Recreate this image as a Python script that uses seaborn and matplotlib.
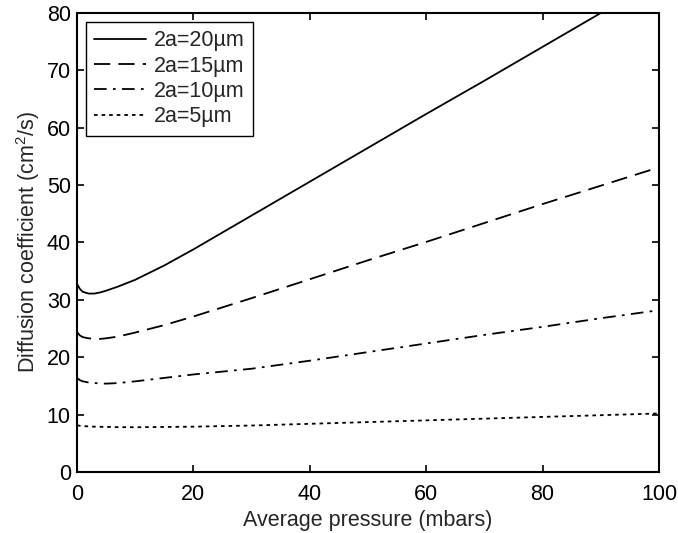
import matplotlib
matplotlib.use("Agg")
import matplotlib.pyplot as plt
import seaborn as sns
import pandas as pd

# ---- data ----
pressure = [0, 0.5, 1, 2, 3, 4, 5, 7, 10, 15, 20, 30, 40, 50, 60, 70, 80, 90, 100]
d20 = [32.8, 31.9, 31.4, 31.1, 31.1, 31.3, 31.6, 32.3, 33.5, 36.0, 38.8, 44.7, 50.6, 56.5, 62.4, 68.2, 74.1, 80.0, 85.9]
d15 = [24.4, 23.8, 23.5, 23.3, 23.2, 23.2, 23.3, 23.6, 24.3, 25.6, 27.1, 30.3, 33.6, 36.9, 40.1, 43.4, 46.7, 49.9, 53.1]
d10 = [16.4, 16.0, 15.8, 15.6, 15.5, 15.45, 15.4, 15.5, 15.8, 16.4, 17.0, 18.0, 19.4, 20.9, 22.4, 23.9, 25.3, 26.8, 28.2]
d5 = [8.15, 8.05, 8.0, 7.95, 7.9, 7.88, 7.85, 7.82, 7.8, 7.85, 7.9, 8.1, 8.4, 8.7, 9.0, 9.3, 9.6, 9.9, 10.2]
labels = ["2a=20µm", "2a=15µm", "2a=10µm", "2a=5µm"]
xticks = [0, 20, 40, 60, 80, 100]
yticks = [0, 10, 20, 30, 40, 50, 60, 70, 80]

sns.set_style("ticks")
plt.rcParams["font.family"] = ["Liberation Sans", "DejaVu Sans"]
plt.rcParams["mathtext.default"] = "regular"

FS = 15.5
fig = plt.figure(figsize=(6.78, 5.33), dpi=100)
ax = fig.add_axes([77 / 678, 61 / 533, 582 / 678, 459 / 533])

styles = ["-", (0, (9, 4.5)), (0, (7, 3.5, 1.5, 3.5)), (0, (2, 2.2))]
for ys, lab, ls in zip([d20, d15, d10, d5], labels, styles):
    df = pd.DataFrame({"p": pressure, "D": ys})
    sns.lineplot(data=df, x="p", y="D", ax=ax, color="black", linestyle=ls,
                 linewidth=1.3, label=lab)

ax.set_xlim(0, 100)
ax.set_ylim(0, 80)
ax.set_xticks(xticks)
ax.set_yticks(yticks)
ax.tick_params(direction="in", length=5, width=1.2, top=True, right=True,
               labelsize=FS, colors="black")
ax.tick_params(axis="x", pad=8.5)
ax.tick_params(axis="y", pad=4.5)
for s in ax.spines.values():
    s.set_visible(True)
    s.set_linewidth(1.5)
    s.set_color("black")
ax.set_xlabel("Average pressure (mbars)", fontsize=FS, labelpad=3.5)
ax.set_ylabel("Diffusion coefficient (cm$^2$/s)", fontsize=FS, labelpad=3)

leg = ax.legend(loc="upper left", fontsize=FS, frameon=True, fancybox=False,
                edgecolor="black", framealpha=1, borderaxespad=0.4,
                handlelength=2.4, labelspacing=0.2, borderpad=0.4,
                handletextpad=0.35)
leg.get_frame().set_linewidth(1.0)

fig.savefig("out.png", dpi=100)
